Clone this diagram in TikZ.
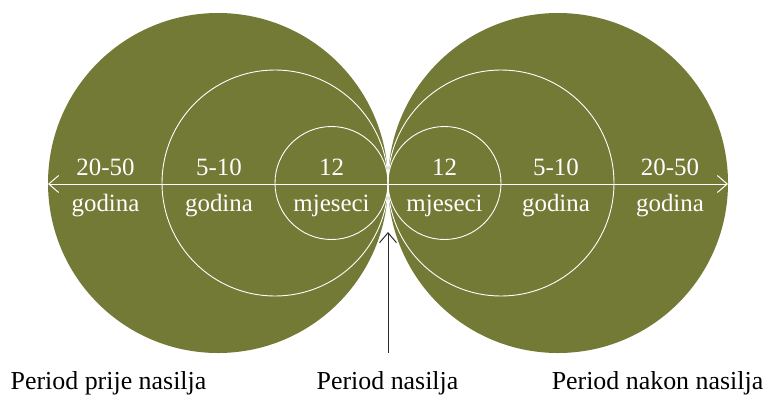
\documentclass[tikz,border=0pt]{standalone}
\usepackage{fontspec}
\setmainfont{Liberation Serif}
\usetikzlibrary{arrows.meta,positioning}
\definecolor{vcolive}{HTML}{737A36}
\definecolor{vcink}{HTML}{2B2B2B}
\tikzset{
  vc disc/.style={fill=vcolive, draw=none},
  vc ring/.style={draw=white, line width=0.9pt},
  vc axis/.style={{Straight Barb[length=3.5mm,width=6mm]}-{Straight Barb[length=3.5mm,width=6mm]}, draw=white, line width=1pt},
  vc pointer/.style={-{Straight Barb[length=3.5mm,width=6mm]}, draw=vcink, line width=1pt},
  vc label/.style={font=\fontsize{25}{28}\selectfont, text=white, anchor=base, inner sep=0pt},
  vc caption/.style={font=\fontsize{26}{30}\selectfont, text=black, anchor=base, inner sep=0pt}
}
\begin{document}
\begin{tikzpicture}[x=1bp, y=-1bp]
  \useasboundingbox (0,0) rectangle (768,395);
  \fill[vc disc] (218,183) circle (170);
  \fill[vc disc] (558,183) circle (170);
  \foreach \cx/\r in {275/113,331.5/56.5,501/113,444.5/56.5} {\draw[vc ring] (\cx,183) circle (\r);}
  \coordinate (west) at (48,184);
  \coordinate (east) at (728,184);
  \draw[vc axis] (west) -- (east);
  \foreach \n/\x/\top/\bot in {a/105.5/20-50/godina,b/219/5-10/godina,c/331.5/12/mjeseci,d/444.5/12/mjeseci,e/556/5-10/godina,f/670/20-50/godina} {
    \node[vc label] (num\n) at (\x,175) {\top};
    \node[vc label] (unit\n) at (\x,211) {\bot};
  }
  \node[vc caption] (before) at (108.5,389) {Period prije nasilja};
  \node[vc caption] (during) at (387.5,389) {Period nasilja};
  \node[vc caption] (after) at (657.5,389) {Period nakon nasilja};
  \coordinate (tail) at (388,353);
  \coordinate (touch) at (388,232);
  \draw[vc pointer] (tail) -- (touch);
\end{tikzpicture}
\end{document}
